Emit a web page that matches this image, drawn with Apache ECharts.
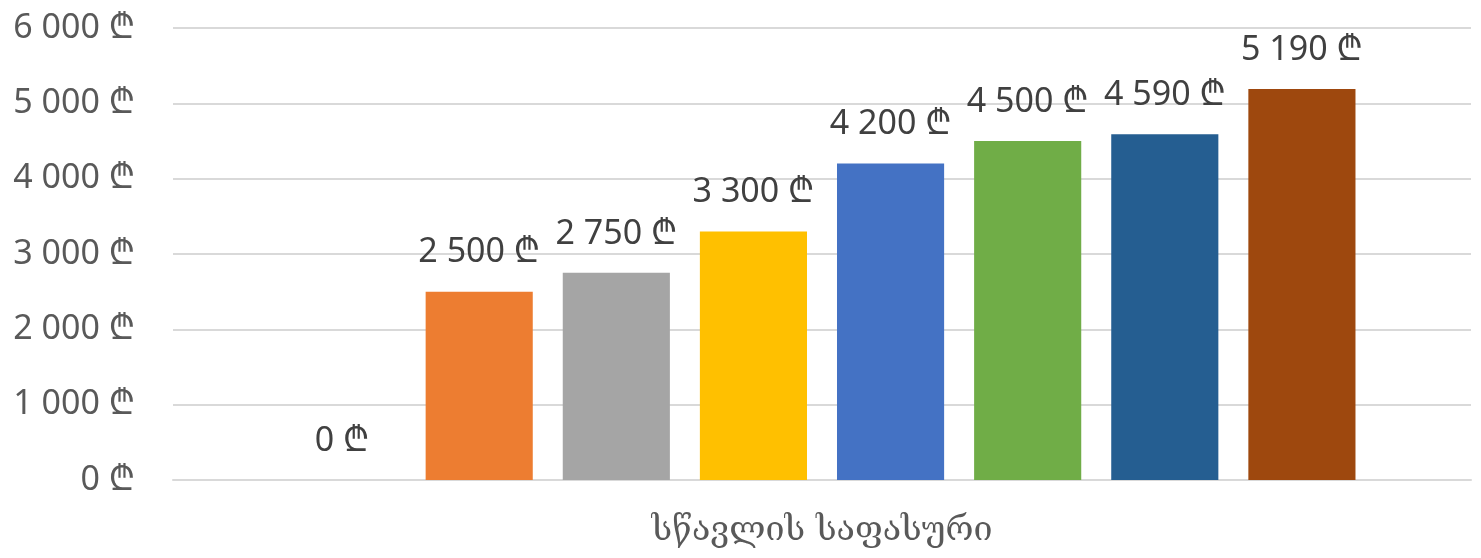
<!DOCTYPE html>
<html>
<head>
<meta charset="utf-8">
<script src="https://cdn.jsdelivr.net/npm/echarts@6/dist/echarts.min.js"></script>
<style>
  html, body { margin: 0; padding: 0; background: #fff; }
  #chart { width: 1481px; height: 558px; }
</style>
</head>
<body>
<div id="chart"></div>
<script>
/**
 * =================================
 *      数据
 * =================================
 */
var categories = ['სწავლის საფასური'];
var seriesValues = [0, 2500, 2750, 3300, 4200, 4500, 4590, 5190];
var yTicks = [0, 1000, 2000, 3000, 4000, 5000, 6000];

// office 配色
var colorPool = ['#5B9BD5', '#ED7D31', '#A5A5A5', '#FFC000', '#4472C4', '#70AD47', '#255E91', '#9E480E'];

var FONT = '"Noto Sans", "DejaVu Sans", sans-serif';

/**
 * 千位空格 + 拉里符号
 */
function fmtLari(v) {
	var s = String(Math.round(v)).replace(/\B(?=(\d{3})+(?!\d))/g, ' ');
	return s + ' \u20BE';
}

var series = [];
for (var i = 0; i < seriesValues.length; i++) {
	series.push({
		type: 'bar',
		data: [seriesValues[i]],
		barGap: '28%',
		barCategoryGap: '17.8%',
		itemStyle: { color: colorPool[i] },
		label: {
			show: true,
			position: 'top',
			distance: 22,
			color: '#404040',
			fontSize: 34,
			fontFamily: FONT,
			formatter: function (p) { return fmtLari(p.value); }
		}
	});
}

var myChart = echarts.init(document.getElementById('chart'));
myChart.setOption({
	animation: false,
	grid: { left: 173, right: 10, top: 28, bottom: 78, containLabel: false },
	xAxis: {
		type: 'category',
		data: categories,
		axisLine: { lineStyle: { color: '#d9d9d9', width: 2 } },
		axisTick: { show: false },
		axisLabel: { color: '#595959', fontSize: 34, fontFamily: '"DejaVu Serif", serif', margin: 34 }
	},
	yAxis: {
		type: 'value',
		min: yTicks[0],
		max: yTicks[yTicks.length - 1],
		interval: yTicks[1] - yTicks[0],
		axisLine: { show: false },
		axisTick: { show: false },
		splitLine: { lineStyle: { color: '#d9d9d9', width: 2 } },
		axisLabel: { color: '#595959', fontSize: 34, fontFamily: FONT, margin: 38, formatter: fmtLari }
	},
	series: series
});
</script>
</body>
</html>
